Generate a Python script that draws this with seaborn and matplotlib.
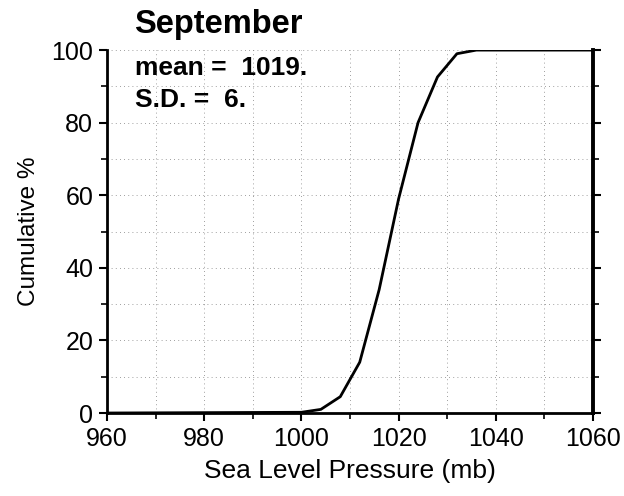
import matplotlib
matplotlib.use("Agg")
import matplotlib.pyplot as plt
import seaborn as sns
import pandas as pd
from matplotlib.ticker import MultipleLocator

pressure = [960, 1000, 1004, 1008, 1012, 1016, 1020, 1024, 1028, 1032, 1036, 1060]
cumulative = [0, 0.2, 1.0, 4.5, 14.0, 34.0, 59.0, 80.0, 92.6, 99.0, 100, 100]
x_ticks = [960, 980, 1000, 1020, 1040, 1060]
y_ticks = [0, 20, 40, 60, 80, 100]
title = "September"
stats_lines = ["mean =  1019.", "S.D. =  6."]

sns.set_theme(style="ticks")
plt.rcParams['font.family'] = ['Liberation Sans', 'DejaVu Sans']
plt.rcParams['text.color'] = 'black'

df = pd.DataFrame({"p": pressure, "c": cumulative})

fig = plt.figure(figsize=(6.24, 4.96), dpi=100)
ax = fig.add_axes([0.1715, 0.1673, 0.7788, 0.7317])

sns.lineplot(data=df, x="p", y="c", ax=ax, color="black", linewidth=2.0, zorder=3)

ax.set_xlim(960, 1060)
ax.set_ylim(0, 100)
ax.set_xticks(x_ticks)
ax.set_yticks(y_ticks)
ax.xaxis.set_minor_locator(MultipleLocator(10))
ax.yaxis.set_minor_locator(MultipleLocator(10))

ax.grid(True, which="both", color="black", linestyle=(0, (1, 4)), linewidth=0.6, alpha=0.5)

for side in ["left", "bottom"]:
    ax.spines[side].set_linewidth(2.0)
    ax.spines[side].set_color("black")
ax.spines["right"].set_linewidth(2.8)
ax.spines["right"].set_color("black")
ax.spines["top"].set_visible(False)

ax.tick_params(axis="both", which="major", direction="out", length=6, width=1.5,
               colors="black", labelsize=18, pad=4)
ax.tick_params(axis="both", which="minor", direction="out", length=4, width=1.2, colors="black")
ax.tick_params(axis="y", which="both", right=True)

ax.set_xlabel("Sea Level Pressure (mb)", fontsize=19, color="black", labelpad=6)
ax.set_ylabel("Cumulative %", fontsize=17.5, color="black", labelpad=8)

fig.text(134/624, 1 - 33/496, title, fontsize=23.5, fontweight="bold", va="baseline", ha="left", color="black")
fig.text(135/624, 1 - 75/496, stats_lines[0], fontsize=19, fontweight="bold", va="baseline", ha="left", color="black")
fig.text(135/624, 1 - 107/496, stats_lines[1], fontsize=19, fontweight="bold", va="baseline", ha="left", color="black")

fig.savefig("out.png", dpi=100, facecolor="white")
